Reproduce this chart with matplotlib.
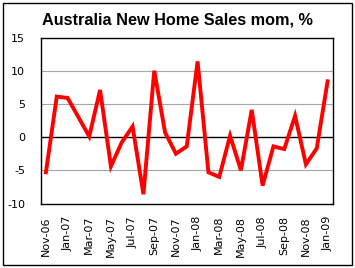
import numpy as np
import matplotlib.pyplot as plt

# monthly change, %, Nov-06 .. Jan-09
months = ["Nov-06", "Dec-06", "Jan-07", "Feb-07", "Mar-07", "Apr-07", "May-07",
          "Jun-07", "Jul-07", "Aug-07", "Sep-07", "Oct-07", "Nov-07", "Dec-07",
          "Jan-08", "Feb-08", "Mar-08", "Apr-08", "May-08", "Jun-08", "Jul-08",
          "Aug-08", "Sep-08", "Oct-08", "Nov-08", "Dec-08", "Jan-09"]
sales_mom = [-5.3, 6.1, 5.9, 3.0, 0.1, 7.1, -4.4,
             -0.8, 1.6, -8.6, 10.0, 0.7, -2.5, -1.4,
             11.4, -5.3, -6.0, 0.2, -5.0, 4.1, -7.3,
             -1.4, -1.8, 3.2, -4.1, -1.7, 8.4]
y_ticks = [-10, -5, 0, 5, 10, 15]

plt.rcParams['font.family'] = ['DejaVu Sans']

fig = plt.figure(figsize=(3.55, 2.68), dpi=100)
fig.patch.set_facecolor("white")

# outer chart border
border = plt.Rectangle((3 / 355, 3 / 268), 349 / 355, 262 / 268,
                       transform=fig.transFigure, fill=False,
                       edgecolor="black", linewidth=1.0)
fig.patches.append(border)

ax = fig.add_axes([40.5 / 355, 1 - 203.5 / 268, 292.5 / 355, 166 / 268])

x = np.arange(len(months))

for v in y_ticks[1:-1]:
    if v == 0:
        continue
    ax.axhline(v, color="#a6a6a6", linewidth=0.8, zorder=1)
ax.axhline(0, color="black", linewidth=1.0, zorder=2)

ax.plot(x, sales_mom, color="#ff0000", linewidth=2.8, zorder=3,
        solid_joinstyle="miter")

ax.set_xlim(-0.5, len(months) - 0.5)
ax.set_ylim(-10, 15)
ax.set_yticks(y_ticks)
ax.set_yticklabels([str(v) for v in y_ticks], fontsize=8)
ax.set_xticks(x[::2])
ax.set_xticklabels(months[::2], rotation=90, fontsize=8)
ax.tick_params(axis="both", length=0)
ax.tick_params(axis="y", pad=11)
ax.tick_params(axis="x", pad=9)

for s in ax.spines.values():
    s.set_color("black")
    s.set_linewidth(1.0)

fig.text(177 / 355, 1 - 20 / 268, "Australia New Home Sales mom, %",
         ha="center", va="center", fontsize=11.7, fontweight="bold",
         family=["Liberation Sans"])

fig.savefig("out.png", dpi=100)
